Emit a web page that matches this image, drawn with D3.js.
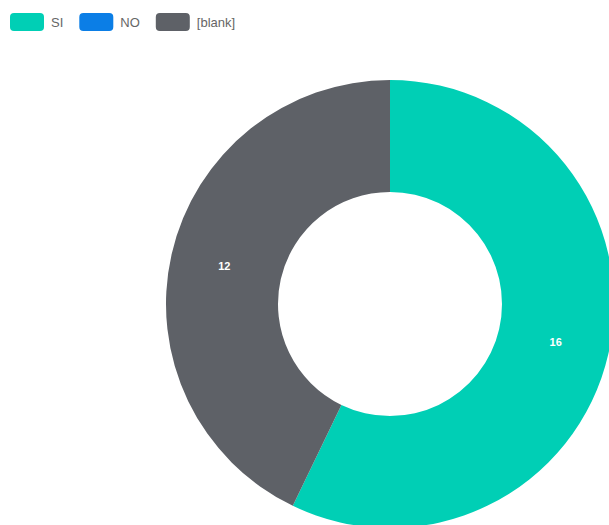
<!DOCTYPE html>
<html>
<head>
<meta charset="utf-8">
<script src="https://cdn.jsdelivr.net/npm/d3@7"></script>
<style>
  body { margin: 0; background: #fff; }
</style>
</head>
<body>
<div id="chart"></div>
<script>
// data
const labels = ["SI", "NO", "[blank]"];
const values = [16, 0, 12];
const colors = ["#00cfb5", "#0b7ee6", "#5e6167"];

const width = 609, height = 525;
const cx = 390, cy = 304;
const outerR = 224, innerR = 112;

const svg = d3.select("#chart")
    .append("svg")
    .attr("width", width)
    .attr("height", height)
    .style("font-family", "Helvetica, Arial, 'Liberation Sans', sans-serif");

// legend
const legend = svg.append("g").attr("transform", "translate(10,13)");
let lx = 0;
labels.forEach((name, i) => {
    const item = legend.append("g").attr("transform", `translate(${lx},0)`);
    item.append("rect")
        .attr("width", 34)
        .attr("height", 18)
        .attr("rx", 4)
        .attr("fill", colors[i]);
    const t = item.append("text")
        .attr("x", 41)
        .attr("y", 14)
        .attr("fill", "#666")
        .style("font-size", "13px")
        .text(name);
    lx += 41 + t.node().getComputedTextLength() + 16;
});

// donut
const pie = d3.pie().sort(null).value(d => d.value);
const arcs = pie(labels.map((l, i) => ({label: l, value: values[i], color: colors[i]})));

const arc = d3.arc().innerRadius(innerR).outerRadius(outerR);
const labelArc = d3.arc().innerRadius(170).outerRadius(170);

const g = svg.append("g").attr("transform", `translate(${cx},${cy})`);

g.selectAll("path")
    .data(arcs.filter(d => d.value > 0))
    .join("path")
    .attr("d", arc)
    .attr("fill", d => d.data.color);

g.selectAll("text.val")
    .data(arcs.filter(d => d.value > 0))
    .join("text")
    .attr("class", "val")
    .attr("transform", d => `translate(${labelArc.centroid(d)})`)
    .attr("text-anchor", "middle")
    .attr("dy", "0.35em")
    .attr("fill", "#fff")
    .style("font-size", "11px")
    .style("font-weight", "bold")
    .text(d => d.data.value);
</script>
</body>
</html>
